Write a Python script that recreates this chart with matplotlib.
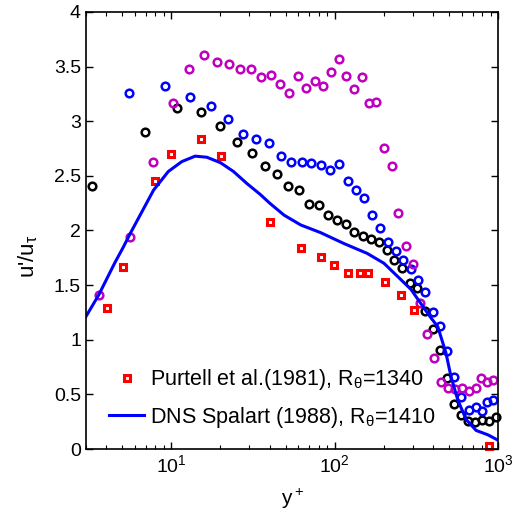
import numpy as np
import matplotlib
matplotlib.use("Agg")
import matplotlib.pyplot as plt
from matplotlib.ticker import LogLocator, NullFormatter

plt.rcParams['font.family'] = ['Liberation Sans', 'DejaVu Sans']
plt.rcParams['mathtext.fontset'] = 'custom'
plt.rcParams['mathtext.rm'] = 'Liberation Sans'
plt.rcParams['mathtext.it'] = 'Liberation Sans'

# black circles
yp_k = [3.29, 6.9, 10.8, 15.2, 19.8, 25.1, 31.1, 37.2, 44.3, 52, 60.4, 69.5, 79.8, 91,
        103, 117, 132, 149, 167, 186, 209, 232, 259, 288, 320, 357, 397, 439, 484,
        535, 593, 658, 723, 798, 877, 968]
u_k = [2.41, 2.90, 3.125, 3.08, 2.96, 2.81, 2.71, 2.59, 2.52, 2.41, 2.37, 2.24, 2.23, 2.14,
       2.10, 2.06, 1.99, 1.95, 1.92, 1.89, 1.82, 1.73, 1.66, 1.52, 1.47, 1.26, 1.10, 0.91, 0.65,
       0.41, 0.31, 0.26, 0.25, 0.27, 0.26, 0.29]

# blue circles
yp_b = [5.52, 9.15, 13.1, 17.4, 22.3, 27.5, 33.2, 39.7, 46.6, 54.2, 62.8, 71.9, 82.4, 93.6,
        105.8, 120, 134.5, 151, 169, 190, 211, 236, 262, 291, 323, 359, 397, 441, 489,
        540, 595, 661, 729, 794, 857, 927]
u_b = [3.26, 3.32, 3.22, 3.14, 3.02, 2.88, 2.84, 2.80, 2.68, 2.63, 2.63, 2.62, 2.60, 2.55,
       2.61, 2.45, 2.37, 2.30, 2.14, 2.02, 1.89, 1.81, 1.73, 1.65, 1.55, 1.44, 1.25, 1.13, 0.90,
       0.66, 0.48, 0.36, 0.38, 0.35, 0.43, 0.45]

# magenta circles
yp_m = [3.61, 5.6, 7.73, 10.2, 12.8, 15.8, 19.0, 22.6, 26.4, 30.7, 35.5, 40.7, 46.4, 52.7,
        59.6, 67.0, 75.3, 84.4, 94.4, 105.8, 118, 131, 146, 162, 180, 200, 223, 245, 272,
        300, 332, 366, 405, 447, 493, 545, 601, 664, 733, 790, 857, 927]
u_m = [1.41, 1.94, 2.63, 3.17, 3.48, 3.61, 3.54, 3.52, 3.48, 3.48, 3.40, 3.42, 3.34, 3.26,
       3.41, 3.30, 3.37, 3.32, 3.45, 3.57, 3.41, 3.29, 3.40, 3.17, 3.18, 2.75, 2.59, 2.16, 1.86,
       1.69, 1.34, 1.05, 0.83, 0.61, 0.56, 0.55, 0.56, 0.53, 0.56, 0.65, 0.61, 0.63]

# Purtell et al. (1981)
yp_p = [4.06, 5.1, 7.94, 9.96, 15.1, 20.2, 40.1, 61.8, 82, 99.6, 120, 142, 159, 202,
        254, 304, 873]
u_p = [1.29, 1.67, 2.45, 2.70, 2.84, 2.68, 2.08, 1.84, 1.76, 1.68, 1.61, 1.61, 1.61, 1.53,
       1.41, 1.27, 0.03]

# DNS Spalart (1988)
yp_dns = [3.0, 3.6, 4.5, 5.1, 5.6, 7.8, 9.6, 11.6, 14, 16.5, 20, 24, 29, 35, 40, 49, 62,
          82, 114, 158, 200, 254, 293, 337, 388, 427, 479, 515, 566, 637, 733, 865, 1000]
u_dns = [1.21, 1.41, 1.70, 1.85, 1.97, 2.37, 2.54, 2.63, 2.68, 2.67, 2.62, 2.54, 2.43, 2.33,
         2.25, 2.14, 2.05, 1.98, 1.88, 1.79, 1.70, 1.55, 1.46, 1.33, 1.20, 1.12, 0.88, 0.66,
         0.45, 0.27, 0.17, 0.13, 0.08]

yticks = [0, 0.5, 1, 1.5, 2, 2.5, 3, 3.5, 4]
ytick_labels = ['0', '0.5', '1', '1.5', '2', '2.5', '3', '3.5', '4']

fig = plt.figure(figsize=(5.2, 5.17), dpi=100)
ax = fig.add_axes([0.165, 0.1315, 0.793, 0.8455])

circ = dict(linestyle='none', marker='o', markersize=5.5, markerfacecolor='none',
            markeredgewidth=1.8, clip_on=False)
ax.plot(yp_k, u_k, markeredgecolor='k', **circ)
ax.plot(yp_b, u_b, markeredgecolor='#0000ff', **circ)
ax.plot(yp_m, u_m, markeredgecolor='#bf00bf', **circ)
ax.plot(yp_p, u_p, linestyle='none', marker='s', markersize=4.5, markerfacecolor='none',
        markeredgecolor='#ff0000', markeredgewidth=2.2, clip_on=False,
        label=r'Purtell et al.(1981), R$_\theta$=1340')
ax.plot(yp_dns, u_dns, color='#0000ff', linewidth=2.2,
        label=r'DNS Spalart (1988), R$_\theta$=1410')

ax.set_xscale('log')
ax.set_xlim(3, 1000)
ax.set_ylim(0, 4)
ax.set_yticks(yticks)
ax.set_yticklabels(ytick_labels)
ax.xaxis.set_major_locator(LogLocator(base=10, numticks=10))
ax.xaxis.set_minor_locator(LogLocator(base=10, subs=np.arange(2, 10), numticks=10))
ax.xaxis.set_minor_formatter(NullFormatter())
ax.tick_params(which='both', direction='in', top=True, right=True, labelsize=14)
ax.tick_params(which='major', length=5, width=1)
ax.tick_params(which='minor', length=3, width=0.8)
for s in ax.spines.values():
    s.set_linewidth(1.2)

ax.set_xlabel(r'y$^+$', fontsize=15, labelpad=8)
ax.set_ylabel(r"u'/u$_\tau$", fontsize=16)
ax.yaxis.set_label_coords(-0.11, 0.44)

ax.legend(loc='lower left', bbox_to_anchor=(0.02, 0.01), frameon=False, fontsize=15.5,
          handlelength=1.63, handletextpad=0.25, labelspacing=0.58, borderaxespad=0.3)

fig.savefig('out.png', dpi=100)
